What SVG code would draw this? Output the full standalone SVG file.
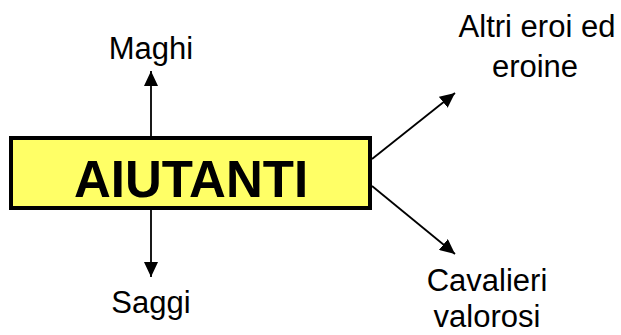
<svg xmlns="http://www.w3.org/2000/svg" width="621" height="335" viewBox="0 0 621 335">
  <style>
    .lbl { font-family: "Liberation Sans", Arial, sans-serif; font-size: 31px; fill: #000; text-anchor: middle; }
    .main { font-family: "Liberation Sans", Arial, sans-serif; font-size: 51px; font-weight: bold; fill: #000; text-anchor: middle; }
    .conn { stroke: #000; stroke-width: 1.8; fill: none; }
    .box { fill: #FFFF66; stroke: #000; stroke-width: 4; }
  </style>
  <defs>
    <marker id="arrow" viewBox="0 0 15 14" refX="15" refY="7" markerWidth="15" markerHeight="14" markerUnits="userSpaceOnUse" orient="auto">
      <path d="M0,0 L15,7 L0,14 Z" fill="#000"/>
    </marker>
  </defs>
  <rect width="621" height="335" fill="#fff"/>
  <g id="connectors">
    <line class="conn" x1="151" y1="136" x2="151" y2="71" marker-end="url(#arrow)"/>
    <line class="conn" x1="151" y1="210" x2="151" y2="277" marker-end="url(#arrow)"/>
    <line class="conn" x1="372" y1="159" x2="455" y2="93" marker-end="url(#arrow)"/>
    <line class="conn" x1="372" y1="186" x2="455" y2="254" marker-end="url(#arrow)"/>
  </g>
  <g id="aiutanti">
    <rect class="box" x="11" y="138" width="359" height="70"/>
    <text class="main" x="191" y="197">AIUTANTI</text>
  </g>
  <g id="maghi">
    <text class="lbl" x="151" y="59">Maghi</text>
  </g>
  <g id="saggi">
    <text class="lbl" x="151" y="313">Saggi</text>
  </g>
  <g id="altri">
    <text class="lbl" x="537" y="37">Altri eroi ed</text>
    <text class="lbl" x="535" y="77">eroine</text>
  </g>
  <g id="cavalieri">
    <text class="lbl" x="487" y="291">Cavalieri</text>
    <text class="lbl" x="487" y="327">valorosi</text>
  </g>
</svg>
